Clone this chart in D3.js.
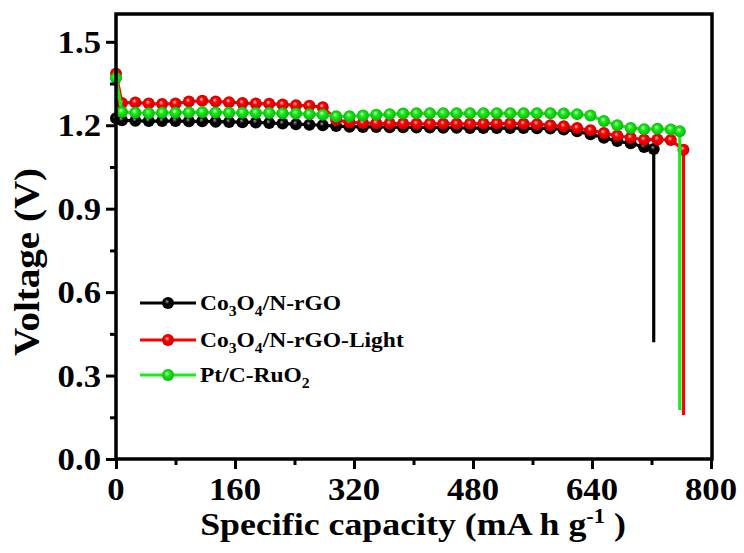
<!DOCTYPE html>
<html>
<head>
<meta charset="utf-8">
<script src="https://cdn.jsdelivr.net/npm/d3@7"></script>
<style>
  body { margin: 0; background: #fff; }
  text { font-family: 'Liberation Serif', 'Times New Roman', serif; font-weight: bold; }
</style>
</head>
<body>
<div id="chart"></div>
<script>
// capacity (mA h g-1) where markers sit
var capacity = [0, 8, 26, 44, 62, 80, 98, 116, 134, 152, 170, 188, 206, 224, 242, 260, 278, 296, 314, 332, 350,
    368, 386, 404, 422, 440, 458, 476, 494, 512, 530, 548, 566, 584, 602, 620, 638, 656, 674, 692, 710, 728, 746];

var blackV = [1.225, 1.218, 1.216, 1.215, 1.215, 1.215, 1.214, 1.214, 1.213, 1.212, 1.211, 1.21, 1.208, 1.206, 1.204,
    1.202, 1.2, 1.197, 1.195, 1.194, 1.194, 1.193, 1.193, 1.192, 1.192, 1.191, 1.191, 1.19, 1.19, 1.19, 1.19, 1.19,
    1.189, 1.188, 1.185, 1.178, 1.168, 1.155, 1.143, 1.135, 1.122];
var redV = [1.385, 1.28, 1.282, 1.278, 1.276, 1.278, 1.285, 1.288, 1.285, 1.283, 1.28, 1.278, 1.277, 1.275, 1.272,
    1.27, 1.265, 1.22, 1.21, 1.208, 1.207, 1.206, 1.206, 1.205, 1.205, 1.205, 1.205, 1.205, 1.206, 1.206, 1.206, 1.205,
    1.204, 1.2, 1.196, 1.19, 1.182, 1.172, 1.162, 1.155, 1.148, 1.149, 1.147];
var greenV = [1.37, 1.248, 1.245, 1.243, 1.245, 1.245, 1.246, 1.247, 1.246, 1.245, 1.245, 1.244, 1.244, 1.243, 1.242,
    1.24, 1.238, 1.232, 1.232, 1.235, 1.238, 1.24, 1.242, 1.243, 1.243, 1.243, 1.243, 1.243, 1.243, 1.243, 1.243, 1.243,
    1.243, 1.243, 1.242, 1.24, 1.235, 1.215, 1.2, 1.19, 1.186, 1.187, 1.185];

// final point and the sudden drop at the end of discharge: [capacity, voltage before, voltage after]
var blackEnd = [723, 1.115, 0.42];
var redEnd = [763, 1.112, 0.158];
var greenEnd = [758, 1.178, 0.176];

var seriesNames = ['Co3O4/N-rGO', 'Co3O4/N-rGO-Light', 'Pt/C-RuO2'];
var xTicks = [0, 160, 320, 480, 640, 800];
var xMinor = [80, 240, 400, 560, 720];
var yTicks = [0, 0.3, 0.6, 0.9, 1.2, 1.5];
var yMinor = [0.15, 0.45, 0.75, 1.05, 1.35];

var W = 744, H = 553;
var margin = { left: 116, right: 711, top: 14, bottom: 459 };
var sx = 1.12; // source text is a bit wide

var x = d3.scaleLinear().domain([0, 800]).range([margin.left, margin.right]);
var y = d3.scaleLinear().domain([0, 1.6]).range([margin.bottom, margin.top]);

var svg = d3.select('#chart').append('svg').attr('width', W).attr('height', H);
var defs = svg.append('defs');

var series = [
    { name: seriesNames[0], vals: blackV, end: blackEnd, color: '#000', light: '#a0a0a0', dark: '#000' },
    { name: seriesNames[1], vals: redV, end: redEnd, color: '#ff0000', light: '#ffc8c8', dark: '#c00000' },
    { name: seriesNames[2], vals: greenV, end: greenEnd, color: '#14f014', light: '#e6ffe6', dark: '#0ca80c' }
];

series.forEach(function (s, i) {
    var g = defs.append('radialGradient').attr('id', 'ball' + i)
        .attr('cx', '50%').attr('cy', '50%').attr('r', '55%').attr('fx', '40%').attr('fy', '35%');
    g.append('stop').attr('offset', '0%').attr('stop-color', s.light);
    g.append('stop').attr('offset', '35%').attr('stop-color', s.color);
    g.append('stop').attr('offset', '100%').attr('stop-color', s.dark);
});

function stext(sel, px, py, size, anchor) {
    return sel.append('text')
        .attr('transform', 'translate(' + px + ',' + py + ') scale(' + sx + ',1)')
        .attr('text-anchor', anchor || 'start')
        .style('font-size', size + 'px');
}

// data
var line = d3.line().x(d => x(d[0])).y(d => y(d[1]));
var plot = svg.append('g');

series.forEach(function (s, i) {
    var pts = s.vals.map((v, k) => [capacity[k], v]);
    var path = pts.concat([[s.end[0], s.end[1]], [s.end[0], s.end[2]]]);
    plot.append('path').datum(path)
        .attr('fill', 'none').attr('stroke', s.color).attr('stroke-width', 3.2)
        .attr('stroke-linejoin', 'round')
        .attr('d', line);
    plot.selectAll('.m' + i).data(pts.concat([[s.end[0], s.end[1]]])).enter()
        .append('circle').attr('class', 'm' + i)
        .attr('cx', d => x(d[0])).attr('cy', d => y(d[1])).attr('r', 6)
        .attr('fill', 'url(#ball' + i + ')');
});

// frame
svg.append('rect').attr('x', margin.left).attr('y', margin.top)
    .attr('width', margin.right - margin.left + 1).attr('height', margin.bottom - margin.top)
    .attr('fill', 'none').attr('stroke', '#000').attr('stroke-width', 3.5);

// axes
function styleAxis(g) {
    g.select('.domain').remove();
    g.selectAll('line').attr('stroke', '#000').attr('stroke-width', 3);
    g.selectAll('text').remove();
}
svg.append('g').attr('transform', 'translate(0,' + margin.bottom + ')')
    .call(d3.axisBottom(x).tickValues(xTicks).tickSize(10)).call(styleAxis);
svg.append('g').attr('transform', 'translate(0,' + margin.bottom + ')')
    .call(d3.axisBottom(x).tickValues(xMinor).tickSize(6)).call(styleAxis);
svg.append('g').attr('transform', 'translate(' + margin.left + ',0)')
    .call(d3.axisLeft(y).tickValues(yTicks).tickSize(10)).call(styleAxis);
svg.append('g').attr('transform', 'translate(' + margin.left + ',0)')
    .call(d3.axisLeft(y).tickValues(yMinor).tickSize(6)).call(styleAxis);

var fmt = d3.format('.1f');
xTicks.forEach(function (t) { stext(svg, x(t), 500, 31, 'middle').text(t); });
yTicks.forEach(function (t) { stext(svg, 101, y(t) + 11, 31, 'end').text(fmt(t)); });

// axis titles
var xt = stext(svg, 413, 535, 32, 'middle');
xt.append('tspan').text('Specific capacity (mA h g');
xt.append('tspan').attr('dy', -12).style('font-size', '20px').text('-1');
xt.append('tspan').attr('dy', 12).text(' )');

svg.append('text')
    .attr('transform', 'translate(39,262) rotate(-90) scale(1.22,1.1)')
    .attr('text-anchor', 'middle')
    .style('font-size', '32px')
    .text('Voltage (V)');

// legend
var legRows = [303, 340, 375];
series.forEach(function (s, i) {
    var ly = legRows[i];
    svg.append('line').attr('x1', 140).attr('x2', 196).attr('y1', ly).attr('y2', ly)
        .attr('stroke', s.color).attr('stroke-width', 3.2);
    svg.append('circle').attr('cx', 168).attr('cy', ly).attr('r', 6)
        .attr('fill', 'url(#ball' + i + ')');
    var t = stext(svg, 200, ly + 7, 21, 'start');
    if (i < 2) {
        t.append('tspan').text('Co');
        t.append('tspan').attr('dy', 6).style('font-size', '14px').text('3');
        t.append('tspan').attr('dy', -6).text('O');
        t.append('tspan').attr('dy', 6).style('font-size', '14px').text('4');
        t.append('tspan').attr('dy', -6).text(i === 0 ? '/N-rGO' : '/N-rGO-Light');
    } else {
        t.append('tspan').text('Pt/C-RuO');
        t.append('tspan').attr('dy', 6).style('font-size', '14px').text('2');
    }
});
</script>
</body>
</html>
